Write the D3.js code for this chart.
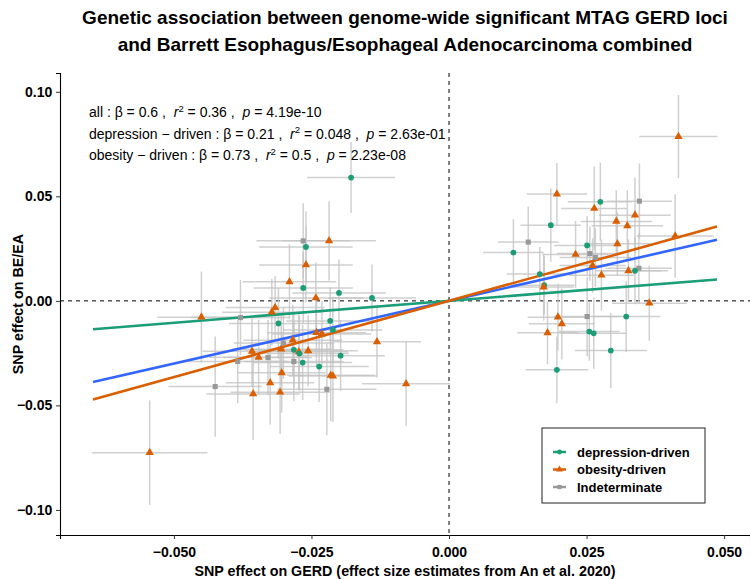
<!DOCTYPE html>
<html>
<head>
<meta charset="utf-8">
<script src="https://cdn.jsdelivr.net/npm/d3@7"></script>
<style>
  body { margin: 0; background: #fff; }
  svg { font-family: "Liberation Sans", Arial, sans-serif; }
</style>
</head>
<body>
<svg id="chart" width="750" height="579"></svg>
<script>
// SNP effects: x = GERD, y = BE/EA, with half-widths of the error bars
const groups = ["depression-driven", "obesity-driven", "Indeterminate"];
const groupColors = ["#1b9e77", "#d95f02", "#999999"];

const pointGroup = [
  1,1,0,2,1,1,1,1,0,2,1,0,0,2,1,2,1,1,1,1,2,0,0,0,1,1,1,2,0,1,1,0,0,0,0,
  1,2,1,1,0,1,1,2,2,2,1,1,1,1,1,1,1,2,0,1,0,1,2,0,0,0,1,1,2,1,1,0,0,
  0,2,1,0,1,0,1,0,0,1,1,1
];
const gerdBeta = [
  0.0417,0.0196,0.0275,0.0346,0.0264,0.0338,0.0304,0.0324,0.0185,0.0144,0.0306,0.0251,0.0117,0.0256,0.0230,0.0266,0.0261,0.0411,0.0277,0.0326,0.0345,0.0338,0.0165,0.0173,0.0172,0.0364,0.0198,0.0251,0.0322,0.0205,0.0179,0.0255,0.0263,0.0294,0.0196,
  -0.0450,-0.0379,-0.0316,-0.0322,-0.0310,-0.0358,-0.0346,-0.0384,-0.0329,-0.0425,-0.0325,-0.0356,-0.0307,-0.0304,-0.0544,-0.0284,-0.0305,-0.0301,-0.0282,-0.0273,-0.0272,-0.0256,-0.0282,-0.0266,-0.0236,-0.0197,-0.0215,-0.0211,-0.0222,-0.0241,-0.0231,-0.0216,-0.0211,
  -0.0178,-0.0265,-0.0218,-0.0260,-0.0260,-0.0265,-0.0290,-0.0200,-0.0140,-0.0131,-0.0078,-0.0242
];
const beBeta = [
  0.0786,0.0511,0.0474,0.0477,0.0442,0.0410,0.0380,0.0359,0.0362,0.0281,0.0273,0.0265,0.0231,0.0226,0.0222,0.0207,0.0169,0.0310,0.0123,0.0144,0.0156,0.0144,0.0128,0.0075,0.0066,-0.0011,-0.0078,-0.0075,-0.0075,-0.0110,-0.0153,-0.0147,-0.0155,-0.0238,-0.0330,
  -0.0078,-0.0080,-0.0032,-0.0054,-0.0108,-0.0241,-0.0270,-0.0290,-0.0271,-0.0410,-0.0392,-0.0445,-0.0437,-0.0344,-0.0726,-0.0188,-0.0231,-0.0202,-0.0234,-0.0244,-0.0252,-0.0239,-0.0290,-0.0295,-0.0314,-0.0262,-0.0356,-0.0360,-0.0423,-0.0152,-0.0158,-0.0096,-0.0139,
  0.0590,0.0287,0.0287,0.0258,0.0172,0.0062,0.0091,0.0038,0.0014,-0.0196,-0.0397,0.0014
];
const gerdErr = [
  0.0071,0.0055,0.0059,0.0059,0.0060,0.0065,0.0065,0.0065,0.0055,0.0055,0.0060,0.0060,0.0055,0.0060,0.0060,0.0065,0.0060,0.0070,0.0060,0.0060,0.0060,0.0060,0.0060,0.0055,0.0055,0.0068,0.0055,0.0060,0.0062,0.0060,0.0055,0.0055,0.0060,0.0065,0.0057,
  0.0080,0.0090,0.0090,0.0090,0.0090,0.0090,0.0090,0.0090,0.0080,0.0085,0.0080,0.0085,0.0090,0.0080,0.0105,0.0090,0.0090,0.0090,0.0090,0.0090,0.0090,0.0090,0.0090,0.0090,0.0090,0.0080,0.0080,0.0080,0.0090,0.0090,0.0090,0.0080,0.0090,
  0.0080,0.0085,0.0085,0.0085,0.0085,0.0090,0.0085,0.0085,0.0080,0.0080,0.0080,0.0085
];
const beErr = [
  0.0199,0.0149,0.0187,0.0180,0.0200,0.0180,0.0150,0.0170,0.0175,0.0170,0.0150,0.0140,0.0160,0.0130,0.0160,0.0140,0.0130,0.0200,0.0170,0.0150,0.0170,0.0160,0.0130,0.0140,0.0160,0.0180,0.0160,0.0190,0.0170,0.0170,0.0150,0.0140,0.0170,0.0180,0.0160,
  0.0218,0.0180,0.0150,0.0160,0.0170,0.0170,0.0180,0.0200,0.0180,0.0240,0.0200,0.0220,0.0200,0.0190,0.0250,0.0170,0.0170,0.0170,0.0180,0.0180,0.0180,0.0170,0.0190,0.0180,0.0170,0.0170,0.0220,0.0220,0.0220,0.0160,0.0160,0.0160,0.0160,
  0.0170,0.0180,0.0190,0.0170,0.0180,0.0170,0.0180,0.0160,0.0160,0.0170,0.0200,0.0170
];

// regressions through the origin
const fitLabels = ["all", "depression \u2212 driven", "obesity \u2212 driven"];
const fitBeta = [0.6, 0.21, 0.73];
const fitR2 = ["0.36", "0.048", "0.5"];
const fitP = ["4.19e-10", "2.63e-01", "2.23e-08"];
const fitColors = ["#3366ff", "#1b9e77", "#d95f02"];
const fitRange = [-0.0647, 0.0487];

const xTicks = [-0.05, -0.025, 0, 0.025, 0.05];
const yTicks = [-0.10, -0.05, 0, 0.05, 0.10];
const xLimits = [-0.0707, 0.0547];
const yLimits = [-0.112, 0.109];

const svg = d3.select("#chart");
const panel = { left: 60, right: 750, top: 73, bottom: 535 };

const x = d3.scaleLinear().domain(xLimits).range([panel.left, panel.right]);
const y = d3.scaleLinear().domain(yLimits).range([panel.bottom, panel.top]);

const points = gerdBeta.map((gx, i) => ({
  x: gx, y: beBeta[i], xe: gerdErr[i], ye: beErr[i], g: pointGroup[i]
}));

// title
svg.append("text")
  .attr("x", 405).attr("y", 24)
  .attr("text-anchor", "middle")
  .attr("font-size", "19px").attr("font-weight", "bold")
  .text("Genetic association between genome-wide significant MTAG GERD loci");
svg.append("text")
  .attr("x", 405).attr("y", 51)
  .attr("text-anchor", "middle")
  .attr("font-size", "19px").attr("font-weight", "bold")
  .text("and Barrett Esophagus/Esophageal Adenocarcinoma combined");

// reference lines
svg.append("line")
  .attr("x1", panel.left).attr("x2", panel.right)
  .attr("y1", y(0)).attr("y2", y(0))
  .attr("stroke", "#000").attr("stroke-width", 1)
  .attr("stroke-dasharray", "4,4");
svg.append("line")
  .attr("x1", x(0)).attr("x2", x(0))
  .attr("y1", panel.top).attr("y2", panel.bottom)
  .attr("stroke", "#000").attr("stroke-width", 1)
  .attr("stroke-dasharray", "4,4");

// error bars
const bars = svg.append("g")
  .attr("stroke", "#c4c4c4").attr("stroke-width", 1.5).attr("stroke-opacity", 0.8);
bars.selectAll("line.h")
  .data(points)
  .join("line")
  .attr("class", "h")
  .attr("x1", d => x(d.x - d.xe)).attr("x2", d => x(d.x + d.xe))
  .attr("y1", d => y(d.y)).attr("y2", d => y(d.y));
bars.selectAll("line.v")
  .data(points)
  .join("line")
  .attr("class", "v")
  .attr("x1", d => x(d.x)).attr("x2", d => x(d.x))
  .attr("y1", d => y(d.y - d.ye)).attr("y2", d => y(d.y + d.ye));

// fitted lines
fitBeta.forEach((b, i) => {
  svg.append("path")
    .datum(fitRange)
    .attr("d", d3.line().x(v => x(v)).y(v => y(b * v)))
    .attr("fill", "none")
    .attr("stroke", fitColors[i])
    .attr("stroke-width", 2.6);
});

// points
const shapes = [d3.symbolCircle, d3.symbolTriangle, d3.symbolSquare];
const sizes = [26, 30, 26];
svg.append("g").selectAll("path")
  .data(points)
  .join("path")
  .attr("transform", d => `translate(${x(d.x)},${y(d.y)})`)
  .attr("d", d => d3.symbol(shapes[d.g], sizes[d.g])())
  .attr("fill", d => groupColors[d.g]);

// axes
const xAxis = svg.append("g")
  .attr("transform", `translate(0,${panel.bottom})`)
  .call(d3.axisBottom(x).tickValues(xTicks).tickFormat(d3.format(".3f")).tickSizeOuter(0).tickSize(4));
const yAxis = svg.append("g")
  .attr("transform", `translate(${panel.left},0)`)
  .call(d3.axisLeft(y).tickValues(yTicks).tickFormat(d3.format(".2f")).tickSizeOuter(0).tickSize(4));
[xAxis, yAxis].forEach(ax => {
  ax.select(".domain").attr("stroke", "#000").attr("stroke-width", 1.1);
  ax.selectAll(".tick line").attr("stroke", "#333");
  ax.selectAll(".tick text")
    .attr("fill", "#000")
    .attr("font-size", "14px")
    .attr("font-weight", "bold")
    .attr("font-family", "Liberation Sans, Arial, sans-serif");
});
xAxis.selectAll(".tick text").attr("dy", "1.05em");
yAxis.selectAll(".tick text").attr("dx", "-0.05em");

svg.append("text")
  .attr("x", 405).attr("y", 576)
  .attr("text-anchor", "middle")
  .attr("font-size", "14.3px").attr("font-weight", "bold")
  .text("SNP effect on GERD (effect size estimates from An et al. 2020)");
svg.append("text")
  .attr("transform", `translate(23,${(panel.top + panel.bottom) / 2}) rotate(-90)`)
  .attr("text-anchor", "middle")
  .attr("font-size", "14.3px").attr("font-weight", "bold")
  .text("SNP effect on BE/EA");

// regression annotations
fitLabels.forEach((lab, i) => {
  const t = svg.append("text")
    .attr("x", 89).attr("y", 117 + i * 21.5)
    .attr("font-size", "14px")
    .attr("xml:space", "preserve");
  t.append("tspan").text(`${lab} : \u03b2 = ${fitBeta[i]} ,  `);
  t.append("tspan").attr("font-style", "italic").text("r");
  t.append("tspan").attr("font-size", "9.5px").attr("dy", "-5.5").text("2");
  t.append("tspan").attr("dy", "5.5").text(` = ${fitR2[i]} ,  `);
  t.append("tspan").attr("font-style", "italic").text("p");
  t.append("tspan").text(` = ${fitP[i]}`);
});

// legend
const legend = svg.append("g").attr("transform", "translate(542,428)");
legend.append("rect")
  .attr("width", 163).attr("height", 75)
  .attr("fill", "#fff").attr("stroke", "#222").attr("stroke-width", 1);
groups.forEach((g, i) => {
  const row = legend.append("g").attr("transform", `translate(0,${24 + i * 17.5})`);
  row.append("line")
    .attr("x1", 11).attr("x2", 24)
    .attr("stroke", groupColors[i]).attr("stroke-width", 2.5);
  row.append("path")
    .attr("transform", "translate(17.5,0)")
    .attr("d", d3.symbol(shapes[i], sizes[i] * 0.7)())
    .attr("fill", groupColors[i]);
  row.append("text")
    .attr("x", 35).attr("dy", "0.35em")
    .attr("font-size", "13px").attr("font-weight", "bold")
    .text(g);
});
</script>
</body>
</html>
